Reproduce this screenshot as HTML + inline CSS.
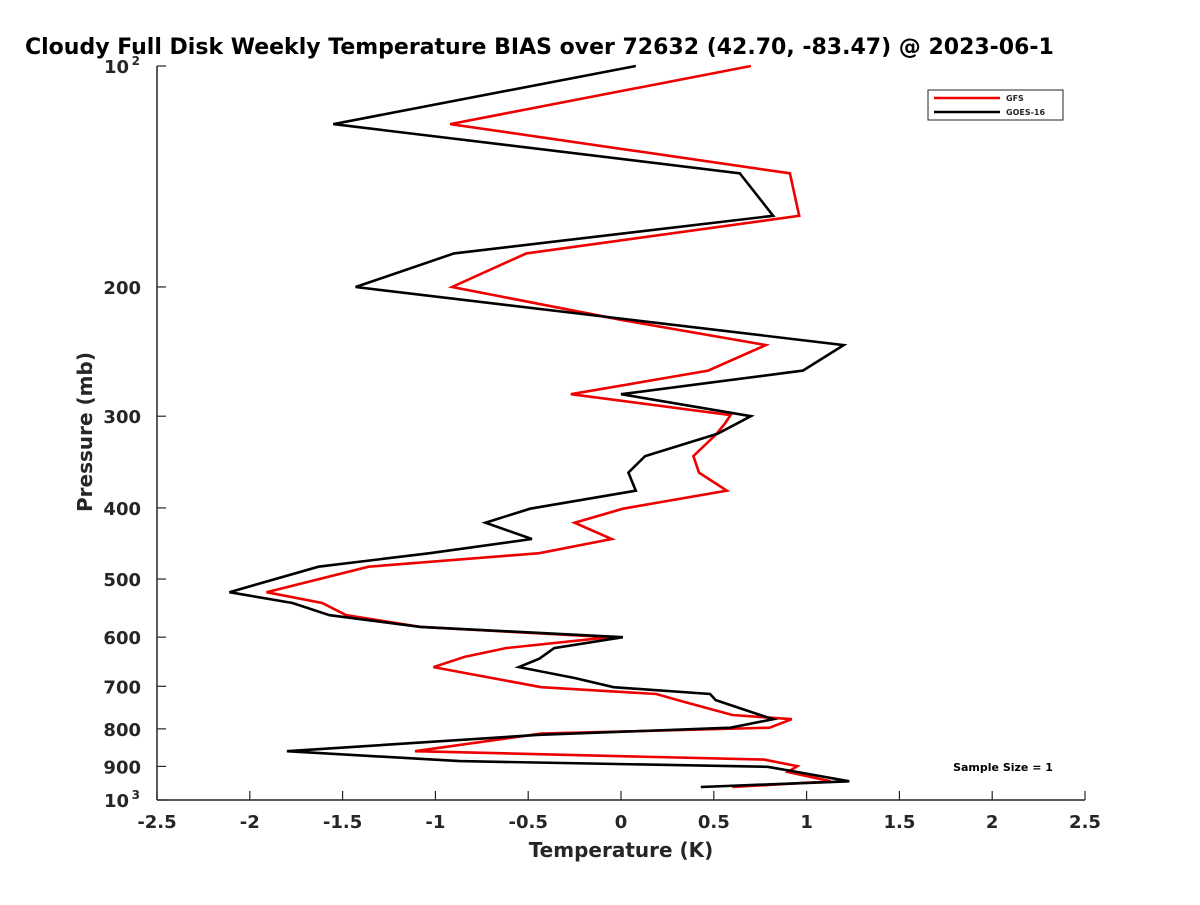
<!DOCTYPE html>
<html><head><meta charset="utf-8"><style>
body{margin:0;background:#fff;}
svg text{font-family:"DejaVu Sans","Liberation Sans",sans-serif;font-weight:bold;fill:#262626;}
</style></head><body>
<svg id="chart" width="1200" height="900" xmlns="http://www.w3.org/2000/svg">
<text x="25" y="54" font-size="22" style="fill:#000">Cloudy Full Disk Weekly Temperature BIAS over 72632 (42.70, -83.47) @ 2023-06-1</text>
<g id="axes"></g>
<g id="series"></g>
<text transform="translate(92,432) rotate(-90)" text-anchor="middle" font-size="20">Pressure (mb)</text>
<text x="621" y="857" text-anchor="middle" font-size="20">Temperature (K)</text>
<g>
<rect x="928" y="90" width="135" height="30" fill="#fff" stroke="#262626" stroke-width="1"/>
<line x1="934" y1="98" x2="1000" y2="98" stroke="#e00" stroke-width="2.5"/>
<text x="1006" y="101" font-size="8">GFS</text>
<line x1="934" y1="112" x2="1000" y2="112" stroke="#000" stroke-width="2.5"/>
<text x="1006" y="115" font-size="8">GOES-16</text>
</g>
<text x="1003" y="771" text-anchor="middle" font-size="11" style="fill:#000">Sample Size = 1</text>
</svg>
<script>
const xTicks=[-2.5,-2,-1.5,-1,-0.5,0,0.5,1,1.5,2,2.5];
const yTicks=[100,200,300,400,500,600,700,800,900,1000];
const yTickLabels=["10^2","200","300","400","500","600","700","800","900","10^3"];
const gfsPressure=[100,120,140,160,180,200,222,240,260,280,299,307,318,340,358,379,401,419,441,461,481,521,539,560,581,600,621,638,659,702,717,735,766,776,797,812,858,881,899,916,943,960];
const gfsTemp=[0.70,-0.92,0.91,0.96,-0.51,-0.91,0.01,0.78,0.47,-0.27,0.59,0.56,0.51,0.39,0.42,0.57,0.01,-0.25,-0.05,-0.44,-1.36,-1.91,-1.61,-1.48,-1.08,-0.06,-0.62,-0.84,-1.01,-0.43,0.19,0.34,0.60,0.92,0.80,-0.43,-1.11,0.77,0.95,0.90,1.13,0.60];
const goesPressure=[100,120,140,160,180,200,240,260,280,300,317,340,358,379,401,419,441,461,481,521,539,560,581,600,621,642,659,682,702,717,731,766,776,797,815,858,885,901,916,943,960];
const goesTemp=[0.08,-1.55,0.64,0.82,-0.90,-1.43,1.20,0.98,0.0,0.70,0.52,0.13,0.04,0.08,-0.49,-0.73,-0.48,-1.03,-1.63,-2.11,-1.77,-1.57,-1.08,0.01,-0.36,-0.44,-0.55,-0.25,-0.04,0.48,0.51,0.75,0.82,0.59,-0.44,-1.80,-0.87,0.79,0.95,1.23,0.43];
const NS="http://www.w3.org/2000/svg";
const X0=157,X1=1085,Y0=66,Y1=800;
function xs(v){return X0+(v+2.5)/5*(X1-X0);}
function ys(p){return Y0+(Math.log10(p)-2)*(Y1-Y0);}
const axes=document.getElementById('axes');
function mk(tag,attrs,parent){const e=document.createElementNS(NS,tag);for(const k in attrs)e.setAttribute(k,attrs[k]);parent.appendChild(e);return e;}
let ax=mk('line',{x1:X0,y1:Y0,x2:X0,y2:Y1,stroke:'#262626','stroke-width':1.5},axes);


let bx=mk('line',{x1:X0,y1:Y1,x2:X1,y2:Y1,stroke:'#262626','stroke-width':1.5},axes);


xTicks.forEach(v=>{
 const x=xs(v);
 mk('line',{x1:x,y1:Y1,x2:x,y2:Y1-9,stroke:'#262626','stroke-width':1.2},axes);
 const t=mk('text',{x:x,y:Y1+28,'text-anchor':'middle','font-size':18},axes);
 t.textContent=String(v);
 
 
});
yTicks.forEach((p,i)=>{
 const y=ys(p);
 mk('line',{x1:X0,y1:y,x2:X0+9,y2:y,stroke:'#262626','stroke-width':1.2},axes);
 const lab=yTickLabels[i];
 if(lab.indexOf('^')>=0){
  const parts=lab.split('^');
  const t=mk('text',{x:X0-28,y:y+7,'text-anchor':'end','font-size':18},axes);
  t.textContent=parts[0];
  
  
  const s=mk('text',{x:X0-17,y:y-1,'text-anchor':'end','font-size':12},axes);
  s.textContent=parts[1];
  
  
 } else {
  const t=mk('text',{x:X0-16,y:y+7,'text-anchor':'end','font-size':18},axes);
  t.textContent=lab;
  
  
 }
});
const ser=document.getElementById('series');
function line(ps,ts,color,name){
 const pts=ps.map((p,i)=>xs(ts[i]).toFixed(1)+','+ys(p).toFixed(1)).join(' ');
 const pl=mk('polyline',{points:pts,fill:'none',stroke:color,'stroke-width':2.6,'stroke-linejoin':'miter'},ser);
 
 
}
line(gfsPressure,gfsTemp,'#e00','gfs-line');
line(goesPressure,goesTemp,'#000','goes16-line');
</script>
</body></html>
